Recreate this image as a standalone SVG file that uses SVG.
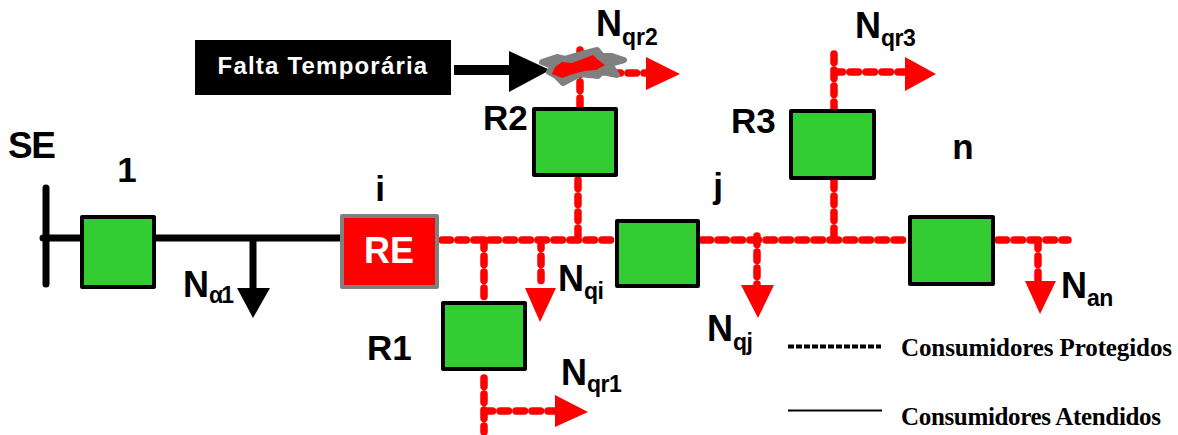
<svg xmlns="http://www.w3.org/2000/svg" width="1178" height="435" viewBox="0 0 1178 435">
<style>
.sw{fill:#33cc33;stroke:#000;stroke-width:4;stroke-linejoin:round}
.lb{font-family:"Liberation Sans",Arial,sans-serif;font-weight:700;fill:#000}
.big{font-size:35px}
.n{font-size:36px}
.sub{font-size:23px;letter-spacing:-.5px}
.leg{font-family:"Liberation Serif","Times New Roman",serif;font-weight:700;font-size:25px;fill:#000}
.rd{fill:none;stroke:#f00;stroke-width:7.500;stroke-linecap:round;stroke-dasharray:8.500 7.500}
.bk{fill:none;stroke:#000;stroke-width:7;stroke-linecap:round}
.ah{fill:#f00}
</style>
<rect width="1178" height="435" fill="#fff"/>
<g id="connectors">
<path class="bk" d="M46 188V284M43 238H345M253 238V290"/>
<path d="M237 288H270L253 318Z" fill="#000"/>
<path d="M454 70H510" stroke="#000" stroke-width="10" fill="none"/>
<path d="M509 51L550 70L509 92Z" fill="#000"/>
<path class="rd" d="M442 240H613M484 240V300M541 240V285M578 180V240M702 240H906M757 236V286M834 180V240M998 240H1068M1038 240V284"/>
<path class="rd" d="M484 378V432M484 411H555M580 50V106M612 73H650M834 54V108M834 72H905"/>
<path class="ah" d="M525 288H556L540 322Z"/>
<path class="ah" d="M555 395L588 412L555 427Z"/>
<path class="ah" d="M646 57L680 74L646 90Z"/>
<path class="ah" d="M905 57L936 74L905 91Z"/>
<path class="ah" d="M741 285H774L758 318Z"/>
<path class="ah" d="M1025 281H1056L1040 314Z"/>
</g>
<g id="falha">
<path d="M542 62L557 57L565 59L582 54L597 50L602 56L612 56L624 60L610 64L617 75L602 72L598 76L580 74L563 83L556 76L549 72L552 66Z" fill="#808080" stroke="#808080" stroke-width="6" stroke-linejoin="round"/>
<path d="M552 74L555 67L562 62L572 63L593 55L597 59L605 65L596 70L585 71L573 74L562 78Z" fill="#f00"/>
</g>
<g id="falta"><rect x="195" y="40" width="256" height="55" fill="#000"/>
<text x="323" y="74" text-anchor="middle" class="lb" font-size="24" style="fill:#fff;letter-spacing:1.2px">Falta Temporária</text></g>
<g id="n1"><rect class="sw" x="82" y="217" width="72" height="70"/><text class="lb big" x="127" y="182" text-anchor="middle">1</text></g>
<g id="re"><rect x="342" y="216" width="95" height="71" fill="#f00" stroke="#808080" stroke-width="4" stroke-linejoin="round"/><text class="lb big" x="389" y="263" text-anchor="middle" style="fill:#fff;font-size:36px">RE</text><text class="lb big" x="380" y="201" text-anchor="middle">i</text></g>
<g id="r1"><rect class="sw" x="443" y="303" width="82" height="66"/><text class="lb big" x="367" y="360">R1</text></g>
<g id="r2"><rect class="sw" x="534" y="109" width="82" height="66"/><text class="lb big" x="483" y="130">R2</text></g>
<g id="j"><rect class="sw" x="617" y="221" width="81" height="65"/><text class="lb big" x="718" y="198" text-anchor="middle">j</text></g>
<g id="r3"><rect class="sw" x="791" y="111" width="83" height="67"/><text class="lb big" x="731" y="133">R3</text></g>
<g id="nn"><rect class="sw" x="910" y="217" width="83" height="67"/><text class="lb big" x="963" y="159" text-anchor="middle">n</text></g>
<g id="labels">
<text class="lb" font-size="37" x="8" y="158" style="letter-spacing:-1.5px">SE</text>
<text class="lb n" x="183" y="297">N<tspan class="sub" dy="6" style="letter-spacing:-2px">α1</tspan></text>
<text class="lb n" x="558" y="291">N<tspan class="sub" dy="8">qi</tspan></text>
<text class="lb n" x="561" y="385">N<tspan class="sub" dy="7">qr1</tspan></text>
<text class="lb n" x="596" y="36">N<tspan class="sub" dy="9" style="letter-spacing:0">qr2</tspan></text>
<text class="lb n" x="855" y="38">N<tspan class="sub" dy="8">qr3</tspan></text>
<text class="lb n" x="707" y="341">N<tspan class="sub" dy="9">qj</tspan></text>
<text class="lb n" x="1061" y="298">N<tspan class="sub" dy="8">an</tspan></text>
</g>
<g id="legenda">
<path d="M788 346.500H881" stroke="#000" stroke-width="4" stroke-dasharray="6 2" fill="none"/>
<path d="M788 410.500H882" stroke="#000" stroke-width="2" fill="none"/>
<text class="leg" x="901" y="356" textLength="271">Consumidores Protegidos</text>
<text class="leg" x="901" y="425" textLength="260">Consumidores Atendidos</text>
</g>
</svg>
